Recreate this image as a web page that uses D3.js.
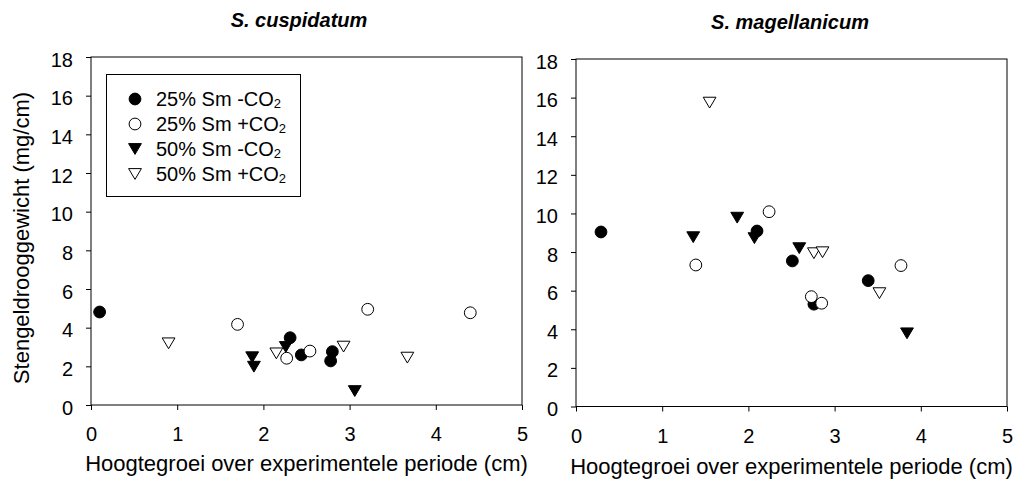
<!DOCTYPE html>
<html>
<head>
<meta charset="utf-8">
<script src="https://cdn.jsdelivr.net/npm/d3@7"></script>
<style>
  html, body { margin: 0; padding: 0; background: #fff; }
  svg { display: block; font-family: "Liberation Sans", Arial, sans-serif; }
</style>
</head>
<body>
<svg id="chart" width="1019" height="488"></svg>
<script>
// ---- Data ----
const xTicks = [0, 1, 2, 3, 4, 5];
const yTicks = [0, 2, 4, 6, 8, 10, 12, 14, 16, 18];
const seriesNames = ["25% Sm -CO", "25% Sm +CO", "50% Sm -CO", "50% Sm +CO"];
const panelTitles = ["S. cuspidatum", "S. magellanicum"];
const xLabel = "Hoogtegroei over experimentele periode (cm)";
const yLabel = "Stengeldrooggewicht (mg/cm)";

// S. cuspidatum: [height growth (cm), stem dry weight (mg/cm)]
const cusp25minus = [[0.10, 4.81], [2.31, 3.48], [2.44, 2.59], [2.80, 2.76], [2.78, 2.28]];
const cusp25plus  = [[1.70, 4.17], [2.27, 2.42], [2.54, 2.79], [3.21, 4.95], [4.40, 4.77]];
const cusp50minus = [[1.87, 2.47], [1.89, 1.98], [2.26, 3.00], [3.06, 0.72]];
const cusp50plus  = [[0.90, 3.19], [2.15, 2.67], [2.93, 3.02], [3.67, 2.45]];

// S. magellanicum
const mag25minus = [[0.29, 9.04], [2.10, 9.09], [2.51, 7.54], [2.76, 5.30], [3.39, 6.52]];
const mag25plus  = [[1.39, 7.33], [2.24, 10.09], [2.73, 5.69], [2.85, 5.35], [3.77, 7.30]];
const mag50minus = [[1.36, 8.77], [1.87, 9.78], [2.07, 8.72], [2.59, 8.20], [3.84, 3.79]];
const mag50plus  = [[1.55, 15.74], [2.76, 7.94], [2.86, 7.99], [3.52, 5.87]];

// ---- Drawing ----
const svg = d3.select("#chart");
const ink = "#000";

const styles = [
  { shape: "circle", fill: ink },
  { shape: "circle", fill: "#fff" },
  { shape: "triangle", fill: ink },
  { shape: "triangle", fill: "#fff" }
];

const panels = [
  { title: panelTitles[0], series: [cusp25minus, cusp25plus, cusp50minus, cusp50plus],
    left: 91, right: 522, top: 57, bottom: 405, titleX: 299, titleY: 27, xLabY: 471, yLab: true, legend: true },
  { title: panelTitles[1], series: [mag25minus, mag25plus, mag50minus, mag50plus],
    left: 576, right: 1007, top: 59, bottom: 406.5, titleX: 790, titleY: 29, xLabY: 474, yLab: false, legend: false }
];

function triPath(w, h) {
  return `M${-w/2},${-h/2}L${w/2},${-h/2}L0,${h/2}Z`;
}

function drawMarker(g, st, cx, cy) {
  if (st.shape === "circle") {
    g.append("circle").attr("cx", cx).attr("cy", cy).attr("r", 5.9)
      .attr("fill", st.fill).attr("stroke", ink).attr("stroke-width", 1);
  } else {
    g.append("path").attr("d", triPath(12.8, 10.8))
      .attr("transform", `translate(${cx},${cy})`)
      .attr("fill", st.fill).attr("stroke", ink).attr("stroke-width", 1)
      .attr("stroke-linejoin", "miter");
  }
}

panels.forEach(p => {
  const x = d3.scaleLinear().domain([0, 5]).range([p.left, p.right]);
  const y = d3.scaleLinear().domain([0, 18]).range([p.bottom, p.top]);
  const g = svg.append("g");

  // frame
  g.append("rect")
    .attr("x", p.left).attr("y", p.top)
    .attr("width", p.right - p.left).attr("height", p.bottom - p.top)
    .attr("fill", "none").attr("stroke", ink).attr("stroke-width", 1);

  // y axis
  const ya = g.append("g").attr("transform", `translate(${p.left},0)`)
    .call(d3.axisLeft(y).tickValues(yTicks).tickFormat(d3.format("d"))
      .tickSize(5).tickSizeOuter(0).tickPadding(13));
  ya.select(".domain").remove();
  ya.selectAll("line").attr("stroke", ink);
  ya.selectAll("text").attr("font-size", 20).attr("fill", ink).attr("dy", "0.45em")
    .attr("font-family", "Liberation Sans, Arial, sans-serif");

  // x axis
  const xa = g.append("g").attr("transform", `translate(0,${p.bottom})`)
    .call(d3.axisBottom(x).tickValues(xTicks).tickFormat(d3.format("d"))
      .tickSize(5).tickSizeOuter(0).tickPadding(17));
  xa.select(".domain").remove();
  xa.selectAll("line").attr("stroke", ink);
  xa.selectAll("text").attr("font-size", 20).attr("fill", ink)
    .attr("font-family", "Liberation Sans, Arial, sans-serif");

  // title
  g.append("text").attr("x", p.titleX).attr("y", p.titleY)
    .attr("text-anchor", "middle").attr("font-size", 20)
    .attr("font-weight", "bold").attr("font-style", "italic")
    .attr("fill", ink).text(p.title);

  // x label
  g.append("text").attr("x", (p.left + p.right) / 2).attr("y", p.xLabY)
    .attr("text-anchor", "middle").attr("font-size", 22).attr("fill", ink)
    .text(xLabel);

  if (p.yLab) {
    g.append("text")
      .attr("transform", `translate(29,238) rotate(-90)`)
      .attr("text-anchor", "middle").attr("font-size", 22).attr("fill", ink)
      .text(yLabel);
  }

  // points
  p.series.forEach((s, i) => {
    const sg = g.append("g");
    s.forEach(d => drawMarker(sg, styles[i], x(d[0]), y(d[1])));
  });

  // legend
  if (p.legend) {
    const lg = g.append("g");
    lg.append("rect").attr("x", 106.5).attr("y", 74.5).attr("width", 194).attr("height", 122)
      .attr("fill", "#fff").attr("stroke", ink).attr("stroke-width", 1);
    seriesNames.forEach((name, i) => {
      const cy = 99 + i * 25;
      drawMarker(lg, styles[i], 135, cy);
      const t = lg.append("text").attr("x", 156).attr("y", cy + 7)
        .attr("font-size", 20).attr("fill", ink);
      t.append("tspan").text(name);
      t.append("tspan").attr("font-size", 13).attr("dy", 2).text("2");
    });
  }
});
</script>
</body>
</html>
